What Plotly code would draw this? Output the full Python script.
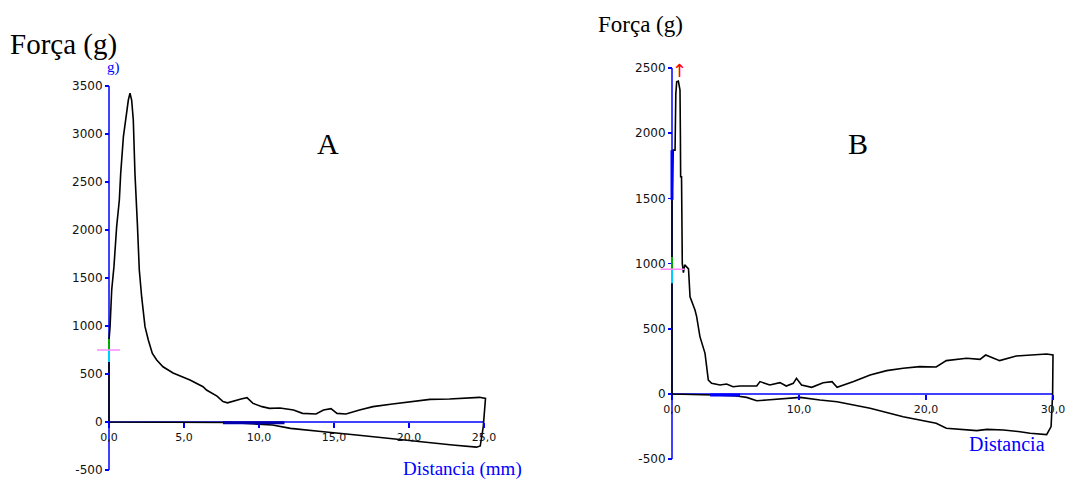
import plotly.graph_objects as go

# ---------------- data ----------------
# Chart A: force (g) vs distance (mm), full loop (out and back)
a_dist = [0.0, 0.0, 0.0, 0.07, 0.18, 0.33, 0.51, 0.69, 0.78, 0.96, 1.09, 1.29, 1.40,
          1.51, 1.62, 1.73, 1.89, 2.02, 2.18, 2.40, 2.62, 2.89, 3.18, 3.60, 4.27,
          5.40, 6.27, 6.50, 7.20, 7.60, 7.90, 8.50, 8.80, 9.20, 9.60, 10.2, 10.7,
          11.4, 12.3, 12.9, 13.8, 14.3, 14.8, 15.2, 15.8, 16.7, 17.6, 18.9, 20.5,
          21.4, 22.7, 24.3, 24.7, 25.1, 24.95, 24.75, 24.5, 22.9, 20.9, 18.7, 16.5,
          14.3, 12.1, 10.9, 8.0, 4.0, 0.0]
a_force = [0, 600, 850, 993, 1375, 1618, 2035, 2312, 2590, 2972, 3146, 3354, 3424,
           3354, 3146, 2590, 2069, 1583, 1300, 993, 854, 715, 646, 575, 510,
           437, 368, 333, 270, 212, 200, 229, 240, 253, 194, 160, 142,
           146, 125, 90, 83, 125, 139, 90, 83, 125, 160, 187, 222,
           236, 240, 253, 257, 246, -50, -250, -262, -240, -205, -170, -135,
           -101, -66, -31, -5, -2, 0]

# Chart B
b_dist = [0.0, 0.0, 0.1, 0.24, 0.30, 0.37, 0.50, 0.63, 0.66, 0.68, 0.75, 0.81, 0.90,
          1.00, 1.15, 1.30, 1.42, 1.81, 1.94, 2.20, 2.60, 2.86, 3.12, 3.78, 4.30,
          4.80, 5.35, 6.67, 6.93, 7.70, 8.50, 9.00, 9.55, 9.80, 10.2, 11.0, 11.9,
          12.6, 13.0, 14.3, 15.6, 16.9, 18.2, 19.5, 20.8, 21.6, 23.2, 24.25, 24.7,
          25.8, 27.1, 28.4, 29.5, 30.0, 29.97, 29.85, 29.5, 28.2, 27.4, 26.1, 24.8,
          24.0, 21.6, 20.8, 18.2, 15.6, 13.0, 11.65, 10.1, 7.46, 6.67, 5.88, 5.1,
          3.25, 0.0]
b_force = [0, 1500, 1870, 1870, 2300, 2395, 2400, 2331, 2000, 1666, 1666, 1000, 930,
           990, 975, 960, 746, 644, 593, 440, 312, 107, 82, 69, 77,
           56, 61, 61, 95, 69, 87, 61, 82, 120, 69, 51, 87,
           95, 51, 95, 146, 179, 197, 210, 207, 256, 274, 266, 299,
           256, 291, 299, 307, 299, 0, -250, -311, -301, -289, -276, -271,
           -281, -263, -225, -174, -110, -59, -46, -26, -46, -52, -26, -15,
           -8, 0]

a_xticks = [0, 5, 10, 15, 20, 25]
a_xlabels = ["0,0", "5,0", "10,0", "15,0", "20,0", "25,0"]
a_yticks = [-500, 0, 500, 1000, 1500, 2000, 2500, 3000, 3500]
b_xticks = [0, 10, 20, 30]
b_xlabels = ["0,0", "10,0", "20,0", "30,0"]
b_yticks = [-500, 0, 500, 1000, 1500, 2000, 2500]

# ---------------- layout geometry ----------------
# body margin is removed by a post script, so the figure fills the window
OFF = 0
FW, FH = 1066, 481

def fx(p):
    return (p - OFF) / FW

def fy(p):
    return 1 - (p - OFF) / FH

BLUE = "#0000ff"
YTICKFONT = dict(family="DejaVu Sans", size=12, color="#111111")
XTICKFONT = dict(family="DejaVu Sans", size=11, color="#111111")
SERIF = "Liberation Serif, Times New Roman, serif"

fig = go.Figure()
fig.add_trace(go.Scatter(x=a_dist, y=a_force, mode="lines", xaxis="x", yaxis="y",
                         line=dict(color="black", width=1.6), showlegend=False,
                         hoverinfo="skip"))
fig.add_trace(go.Scatter(x=b_dist, y=b_force, mode="lines", xaxis="x2", yaxis="y2",
                         line=dict(color="black", width=1.6), showlegend=False,
                         hoverinfo="skip"))

def ax_common():
    return dict(showgrid=False, zeroline=False, showline=False, ticks="outside",
                tickcolor=BLUE, tickwidth=1.5, fixedrange=True,
                automargin=False, ticklabeloverflow="allow")

# A: 15 px per mm, 0 at screen px 109 ; y: 0.096 px per g, 0 at screen px 422
# B: 12.7 px per mm, 0 at screen px 672 ; y: 0.1304 px per g, 0 at screen px 394
fig.update_layout(
    xaxis=dict(**ax_common(), domain=[fx(94), fx(514)], range=[-1, 27],
               anchor="free", position=fy(422), ticklen=5, tickfont=XTICKFONT,
               tickvals=a_xticks, ticktext=a_xlabels),
    yaxis=dict(**ax_common(), domain=[fy(470), fy(86)], range=[-500, 3500],
               anchor="free", position=fx(109), ticklen=4, tickfont=YTICKFONT,
               tickvals=a_yticks, ticktext=[str(v) for v in a_yticks]),
    xaxis2=dict(**ax_common(), domain=[fx(659.3), fx(1059.35)], range=[-1, 30.5],
                anchor="free", position=fy(394), ticklen=5, tickfont=XTICKFONT,
                tickvals=b_xticks, ticktext=b_xlabels),
    yaxis2=dict(**ax_common(), domain=[fy(459.2), fy(68)], range=[-500, 2500],
                anchor="free", position=fx(672), ticklen=4, tickfont=YTICKFONT,
                tickvals=b_yticks, ticktext=[str(v) for v in b_yticks]),
)

shapes = []
def seg(xr, yr, x0, y0, x1, y1, color, width, layer="below"):
    shapes.append(dict(type="line", xref=xr, yref=yr, x0=x0, y0=y0, x1=x1, y1=y1,
                       line=dict(color=color, width=width), layer=layer))

# axis lines
seg("x", "y", 0, a_yticks[0], 0, a_yticks[-1], BLUE, 1.5)
seg("x", "y", 0, 0, a_xticks[-1], 0, BLUE, 1.5)
seg("x2", "y2", 0, b_yticks[0], 0, b_yticks[-1], BLUE, 1.5)
seg("x2", "y2", 0, 0, b_xticks[-1], 0, BLUE, 1.5)
# markers on axes (A)
seg("x", "y", 0, 625, 0, 750, "#00ccff", 2, "above")
seg("x", "y", 0, 750, 0, 865, "#00aa00", 2, "above")
seg("x", "y", -0.8, 750, 0.73, 750, "#ff88ff", 1.5, "above")
seg("x", "y", 7.6, -8, 11.7, -8, "#0000aa", 3, "above")
# markers on axes (B)
seg("x2", "y2", 0, 850, 0, 957, "#00ccff", 2, "above")
seg("x2", "y2", 0, 957, 0, 1050, "#00aa00", 2, "above")
seg("x2", "y2", -0.9, 957, 1.0, 957, "#ff88ff", 1.5, "above")
seg("x2", "y2", 0, 1490, 0, 1870, "#0000ff", 3, "above")
seg("x2", "y2", 3.0, -8, 5.35, -8, "#0000ff", 3, "above")
fig.update_layout(shapes=shapes)

ann = []
def txt(x, y, text, size, color="black", family=SERIF, xanchor="center"):
    ann.append(dict(x=fx(x), y=fy(y), xref="paper", yref="paper", text=text,
                    showarrow=False, xanchor=xanchor, yanchor="middle",
                    font=dict(family=family, size=size, color=color)))

txt(8, 44, "Força (g)", 29, xanchor="left")
txt(113, 67, "g)", 15, color=BLUE)
txt(328, 143, "A", 30)
txt(462, 469, "Distancia (mm)", 19, color=BLUE)
txt(596, 24, "Força (g)", 23, xanchor="left")
txt(858, 143, "B", 30)
txt(1007, 444, "Distancia", 20, color=BLUE)
txt(679, 70, "↑", 18, color="red", family="DejaVu Sans")
fig.update_layout(annotations=ann)

fig.update_layout(width=FW, height=FH, margin=dict(l=0, r=0, t=0, b=0),
                  paper_bgcolor="white", plot_bgcolor="white", showlegend=False)

fig.write_html("out.html",
               config={"displayModeBar": False, "staticPlot": True},
               post_script="document.body.style.margin='0';"
                           "document.body.style.overflow='hidden';")
